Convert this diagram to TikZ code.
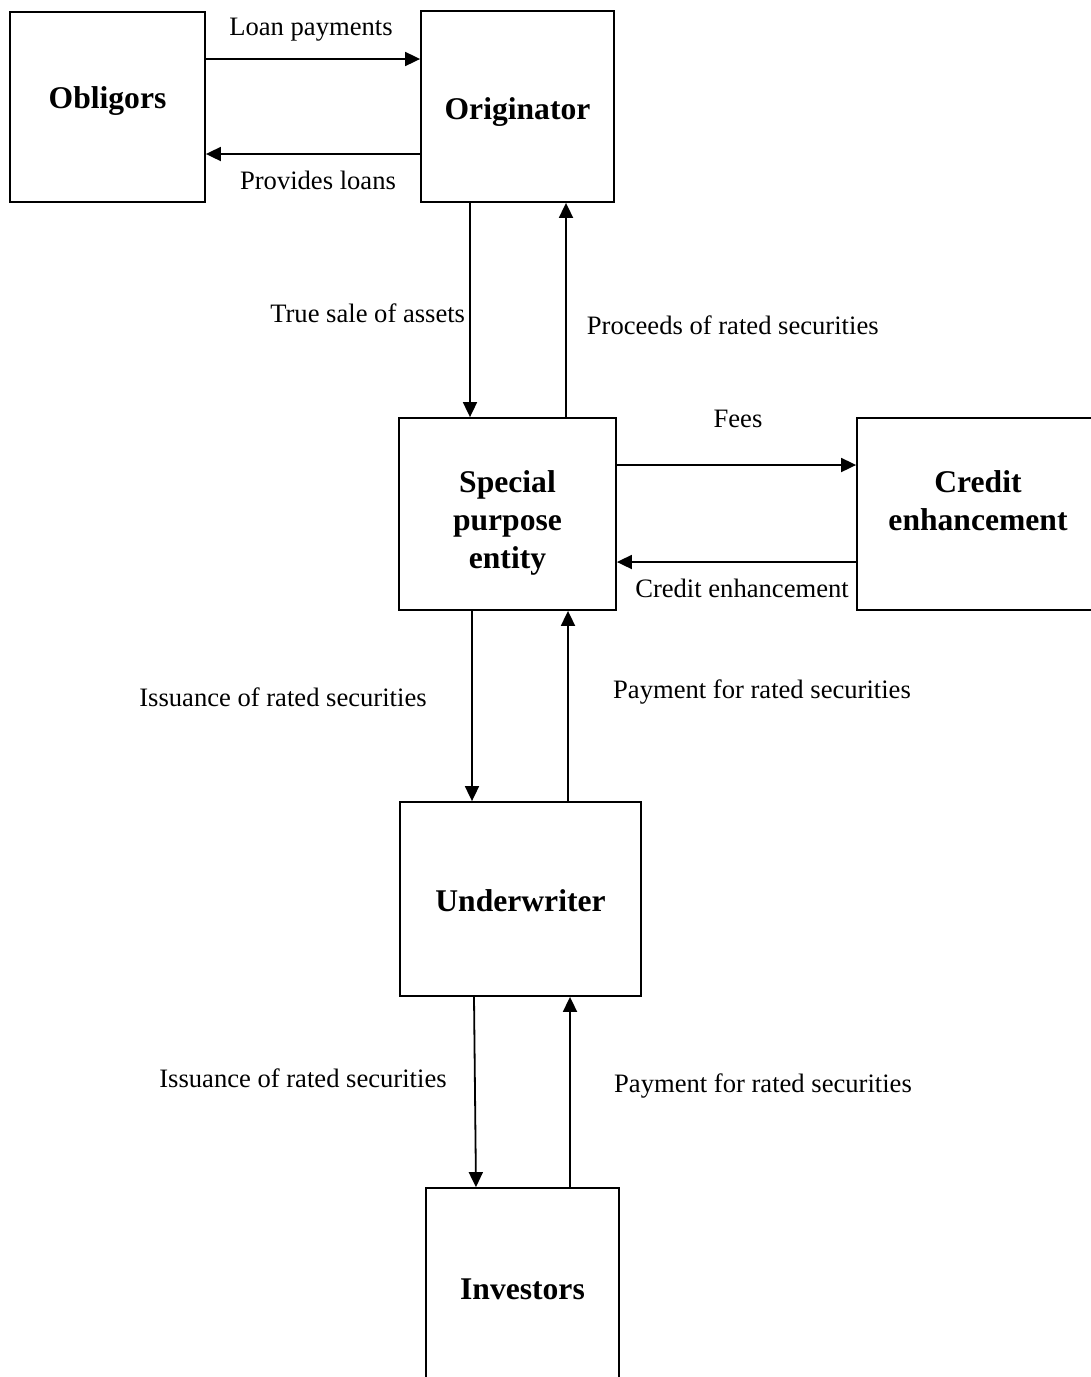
\documentclass[tikz,border=0pt]{standalone}
\usepackage{fontspec}
\setmainfont{Liberation Serif}
\usetikzlibrary{calc}
\usetikzlibrary{arrows.meta}

\begin{document}
\begin{tikzpicture}[
      x=0.5pt, y=-0.5pt, >={Triangle[length=7.5pt, width=7pt]},
      line width=0.9pt,
      party/.style={draw, inner sep=0pt},
      partyname/.style={align=center, inner sep=0pt,
        font=\fontsize{15.8}{19}\selectfont\bfseries},
      flow/.style={font=\fontsize{13.3}{16}\selectfont}]

      \useasboundingbox (0,0) rectangle (1091,1377);

      % parties
      \node[party, minimum width=97.5pt, minimum height=95pt,
        label={[partyname, yshift=3pt]center:Obligors}] (obl) at (107.5,107) {};
      \node[party, minimum width=96.5pt, minimum height=95.5pt,
        label={[partyname, yshift=-3pt]center:Originator}] (orig) at (517.5,106.5) {};
      \node[party, minimum width=108.5pt, minimum height=96pt,
        label={[partyname, yshift=-4.5pt]center:Special\\purpose\\entity}] (spe) at (507.5,514) {};
      \node[party, minimum width=121pt, minimum height=96pt,
        label={[partyname, yshift=6.5pt]center:Credit\\enhancement}] (ce) at (978,514) {};
      \node[party, minimum width=120.5pt, minimum height=97pt,
        label={[partyname, yshift=-1pt]center:Underwriter}] (uw) at (520.5,899) {};
      \node[party, minimum width=96.5pt, minimum height=101pt,
        label={[partyname]center:Investors}] (inv) at (522.5,1289) {};

      % flows
      \draw[->] ([yshift=24pt]obl.east) -- ([yshift=24pt]obl.east -| orig.west);
      \draw[->] ([yshift=-23.5pt]obl.east -| orig.west) -- ([yshift=-23.5pt]obl.east);
      \draw[->] ([xshift=-23.75pt]orig.south) -- ([xshift=-23.75pt]orig.south |- spe.north);
      \draw[->] ([xshift=24.25pt]orig.south |- spe.north) -- ([xshift=24.25pt]orig.south);
      \draw[->] ([yshift=24.5pt]spe.east) -- ([yshift=24.5pt]spe.east -| ce.west);
      \draw[->] ([yshift=-24pt]spe.east -| ce.west) -- ([yshift=-24pt]spe.east);
      \draw[->] ([xshift=-17.75pt]spe.south) -- ([xshift=-17.75pt]spe.south |- uw.north);
      \draw[->] ([xshift=30.25pt]spe.south |- uw.north) -- ([xshift=30.25pt]spe.south);
      \draw[->] ([xshift=-23.25pt]uw.south) -- ([xshift=-23.25pt]inv.north);
      \draw[->] ([xshift=23.75pt]inv.north) -- ([xshift=23.75pt]inv.north |- uw.south);

      % flow labels
      \node[flow] (loanlab) at (311,30) {Loan payments};
      \node[flow] (provlab) at (318,180) {Provides loans};
      \node[flow, anchor=east, inner sep=1pt] (salelab) at (468,313) {True sale of assets};
      \node[flow, anchor=west, inner sep=0pt] (proclab) at (586,325) {Proceeds of rated securities};
      \node[flow] (feeslab) at (738,419) {Fees};
      \node[flow] (enhlab) at (742,588) {Credit enhancement};
      \node[flow] (isslab) at (283,697) {Issuance of rated securities};
      \node[flow] (paylab) at (762,692) {Payment for rated securities};
      \node[flow] (isslabb) at (303,1078) {Issuance of rated securities};
      \node[flow] (paylabb) at (763,1086) {Payment for rated securities};
    \end{tikzpicture}
\end{document}
